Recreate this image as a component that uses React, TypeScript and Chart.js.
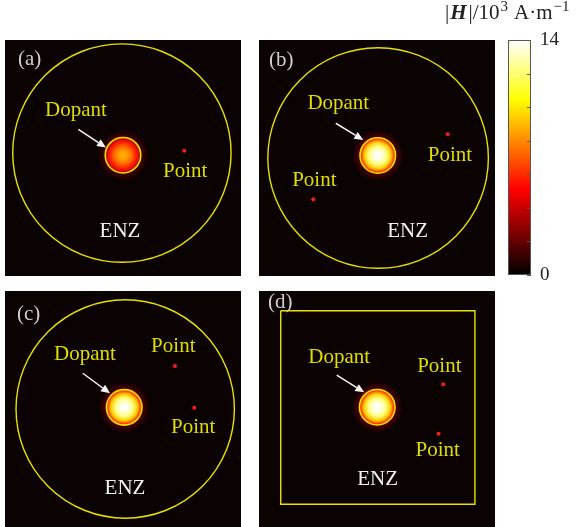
import React, { useRef, useEffect } from 'react';
import { Chart, registerables } from 'chart.js';

Chart.register(...registerables);

const SERIF = '"Liberation Serif", "Times New Roman", serif';
const YELLOW_TEXT = '#dede00';
const YELLOW_LINE = '#e8e200';

// |H| colour scale, in 10^3 A/m
const fieldMin = 0;
const fieldMax = 14;
const colorbarTicks = [0, 2, 4, 6, 8, 10, 12, 14];
const colorbarTickLabels = ['0', '', '', '', '', '', '', '14'];

const panelTags = ['(a)', '(b)', '(c)', '(d)'];

// ENZ host boundary, in units of the host radius
const enzShape = ['circle', 'circle', 'circle', 'square'];
const enzCentreX = [-0.01, 0.01, 0.02, 0];
const enzCentreY = [0.045, 0, 0, 0];
const enzRadius = [0.99, 1.0, 0.99, 0];
const enzSquareX = [-0.873, 0.888, 0.888, -0.873, -0.873];
const enzSquareY = [0.891, 0.891, -0.864, -0.864, 0.891];

// dopant and the field inside it (centre -> rim)
const dopantX = [0, 0.007, 0.011, 0.002];
const dopantY = [0.025, 0.023, 0.015, 0.016];
const dopantRadius = 0.161;
const radiusSamples = [0, 0.25, 0.5, 0.75, 1];
const dopantField = [
    [8.8, 8.4, 7.3, 5.7, 3.6],
    [14, 13.6, 12.2, 9.4, 5.0],
    [14, 13.6, 12.2, 9.4, 5.0],
    [14, 13.6, 12.2, 9.4, 5.0],
];
const haloField = [1.4, 1.6, 1.6, 1.6];

// probe points
const pointX = [[0.556], [0.641, -0.578], [0.471, 0.646], [0.601, 0.559]];
const pointY = [[0.066], [0.215, -0.374], [0.39, 0.012], [0.224, -0.224]];

// annotation anchors
const pointLabelX = [[0.564], [0.662, -0.568], [0.456, 0.637], [0.565, 0.55]];
const pointLabelY = [[-0.124], [0.027, -0.206], [0.565, -0.166], [0.39, -0.378]];
const dopantLabelX = [-0.426, -0.351, -0.345, -0.342];
const dopantLabelY = [0.435, 0.49, 0.49, 0.465];
const enzLabelX = [-0.027, 0.278, 0.018, 0.006];
const enzLabelY = [-0.662, -0.662, -0.719, -0.637];
const arrowFrom = [[-0.405, 0.26], [-0.374, 0.315], [-0.365, 0.324], [-0.365, 0.308]];
const arrowTo = [[-0.154, 0.095], [-0.124, 0.163], [-0.118, 0.142], [-0.115, 0.151]];

const panelLeft = [5, 259, 5, 259];
const panelTop = [40, 40, 291, 291];
const PANEL = 236;
const tagOffsetX = [13, 10, 12, 9];
const tagOffsetY = [19, 20, 23, 11];

// matplotlib-style "hot" colour map
const hotStops = [0, 0.365, 0.746, 1];
const hot = (v: number, alpha = 1) => {
    const t = Math.max(0, Math.min(1, (v - fieldMin) / (fieldMax - fieldMin)));
    const r = Math.min(1, t / 0.365);
    const g = Math.max(0, Math.min(1, (t - 0.365) / 0.381));
    const b = Math.max(0, Math.min(1, (t - 0.746) / 0.254));
    return `rgba(${Math.round(r * 255)},${Math.round(g * 255)},${Math.round(b * 255)},${alpha})`;
};

const unitPx = (chart: any, r: number) =>
    Math.abs(chart.scales.x.getPixelForValue(r) - chart.scales.x.getPixelForValue(0));

const Panel: React.FC<{ index: number }> = ({ index: i }) => {
    const chartRef = useRef<HTMLCanvasElement>(null);
    const chartInstance = useRef<Chart | null>(null);

    useEffect(() => {
        if (!chartRef.current) return;
        const ctx = chartRef.current.getContext('2d');
        if (!ctx) return;
        if (chartInstance.current) chartInstance.current.destroy();

        const datasets: any[] = [];
        if (enzShape[i] === 'circle') {
            datasets.push({
                label: 'ENZ',
                data: [{ x: enzCentreX[i], y: enzCentreY[i] }],
                pointRadius: (c: any) => unitPx(c.chart, enzRadius[i]),
                pointBackgroundColor: 'rgba(0,0,0,0)',
                pointBorderColor: YELLOW_LINE,
                pointBorderWidth: 1.4,
            });
        } else {
            datasets.push({
                label: 'ENZ',
                data: enzSquareX.map((x, k) => ({ x, y: enzSquareY[k] })),
                showLine: true,
                borderColor: YELLOW_LINE,
                borderWidth: 1.4,
                pointRadius: 0,
                tension: 0,
            });
        }
        datasets.push({
            label: 'Dopant',
            data: [{ x: dopantX[i], y: dopantY[i] }],
            pointRadius: (c: any) => unitPx(c.chart, dopantRadius),
            pointBackgroundColor: 'rgba(0,0,0,0)',
            pointBorderColor: '#f2e400',
            pointBorderWidth: 1.6,
        });
        datasets.push({
            label: 'Point',
            data: pointX[i].map((x, k) => ({ x, y: pointY[i][k] })),
            pointRadius: 2,
            pointBackgroundColor: '#ff1a1a',
            pointBorderWidth: 0,
        });

        const fieldPlugin = {
            id: 'field',
            beforeDatasetsDraw(chart: any) {
                const { ctx: c, scales } = chart;
                c.save();
                c.fillStyle = '#0b0202';
                c.fillRect(0, 0, chart.width, chart.height);
                const px = scales.x.getPixelForValue(dopantX[i]);
                const py = scales.y.getPixelForValue(dopantY[i]);
                const R = unitPx(chart, dopantRadius);
                const halo = c.createRadialGradient(px, py, R, px, py, R * 1.45);
                halo.addColorStop(0, hot(haloField[i]));
                halo.addColorStop(1, hot(haloField[i], 0));
                c.fillStyle = halo;
                c.beginPath();
                c.arc(px, py, R * 1.45, 0, Math.PI * 2);
                c.fill();
                const g = c.createRadialGradient(px, py, 0, px, py, R);
                radiusSamples.forEach((t, k) => g.addColorStop(t, hot(dopantField[i][k])));
                c.fillStyle = g;
                c.beginPath();
                c.arc(px, py, R, 0, Math.PI * 2);
                c.fill();
                c.restore();
            },
            afterDatasetsDraw(chart: any) {
                const { ctx: c, chartArea: a, scales } = chart;
                const X = (v: number) => scales.x.getPixelForValue(v);
                const Y = (v: number) => scales.y.getPixelForValue(v);
                c.save();
                c.font = `21px ${SERIF}`;
                c.textAlign = 'center';
                c.textBaseline = 'middle';
                c.fillStyle = YELLOW_TEXT;
                c.fillText('Dopant', X(dopantLabelX[i]), Y(dopantLabelY[i]));
                pointLabelX[i].forEach((lx, k) => c.fillText('Point', X(lx), Y(pointLabelY[i][k])));
                c.fillStyle = '#f2f2f2';
                c.fillText('ENZ', X(enzLabelX[i]), Y(enzLabelY[i]));

                // arrow towards the dopant
                const x0 = X(arrowFrom[i][0]), y0 = Y(arrowFrom[i][1]);
                const x1 = X(arrowTo[i][0]), y1 = Y(arrowTo[i][1]);
                const ang = Math.atan2(y1 - y0, x1 - x0);
                const head = 9, half = 4;
                const bx = x1 - head * Math.cos(ang), by = y1 - head * Math.sin(ang);
                c.strokeStyle = '#f4f4f4';
                c.fillStyle = '#f4f4f4';
                c.lineWidth = 1.5;
                c.beginPath();
                c.moveTo(x0, y0);
                c.lineTo(bx, by);
                c.stroke();
                c.beginPath();
                c.moveTo(x1, y1);
                c.lineTo(bx - half * Math.sin(ang), by + half * Math.cos(ang));
                c.lineTo(bx + half * Math.sin(ang), by - half * Math.cos(ang));
                c.closePath();
                c.fill();

                c.textAlign = 'left';
                c.fillStyle = '#d0d0d0';
                c.fillText(panelTags[i], a.left + tagOffsetX[i], a.top + tagOffsetY[i]);
                c.restore();
            },
        };

        chartInstance.current = new Chart(ctx, {
            type: 'scatter',
            data: { datasets },
            options: {
                animation: false,
                responsive: true,
                maintainAspectRatio: false,
                events: [],
                layout: { padding: 0, autoPadding: false },
                plugins: { legend: { display: false }, tooltip: { enabled: false } },
                scales: {
                    x: { type: 'linear', display: false, min: -1.07, max: 1.07 },
                    y: { type: 'linear', display: false, min: -1.07, max: 1.07 },
                },
            },
            plugins: [fieldPlugin],
        });

        return () => {
            if (chartInstance.current) {
                chartInstance.current.destroy();
                chartInstance.current = null;
            }
        };
    }, [i]);

    return (
        <div style={{ position: 'absolute', left: panelLeft[i], top: panelTop[i], width: PANEL, height: PANEL }}>
            <canvas ref={chartRef}></canvas>
        </div>
    );
};

const Colorbar: React.FC = () => {
    const chartRef = useRef<HTMLCanvasElement>(null);
    const chartInstance = useRef<Chart | null>(null);

    useEffect(() => {
        if (!chartRef.current) return;
        const ctx = chartRef.current.getContext('2d');
        if (!ctx) return;
        if (chartInstance.current) chartInstance.current.destroy();

        const colorbarPlugin = {
            id: 'colorbarFrame',
            afterDatasetsDraw(chart: any) {
                const { ctx: c, chartArea: a, scales } = chart;
                c.save();
                c.strokeStyle = '#555555';
                c.lineWidth = 1;
                c.strokeRect(a.left + 0.5, a.top + 0.5, a.width - 1, a.height - 1);
                c.font = `19px ${SERIF}`;
                c.fillStyle = '#222222';
                c.textAlign = 'left';
                c.textBaseline = 'middle';
                colorbarTicks.forEach((v, k) => {
                    const py = Math.round(scales.y.getPixelForValue(v)) + 0.5;
                    c.beginPath();
                    c.moveTo(a.right, py);
                    c.lineTo(a.right - 4, py);
                    c.stroke();
                    if (colorbarTickLabels[k]) c.fillText(colorbarTickLabels[k], a.right + 9, py);
                });

                // |H|/10^3 A·m^-1
                const parts = [
                    { t: '|', f: `21px ${SERIF}`, dy: 0, gap: 1 },
                    { t: 'H', f: `italic bold 21px ${SERIF}`, dy: 0, gap: 2 },
                    { t: '|/10', f: `21px ${SERIF}`, dy: 0, gap: 1 },
                    { t: '3', f: `15px ${SERIF}`, dy: -8, gap: 6 },
                    { t: 'A·m', f: `21px ${SERIF}`, dy: 0, gap: 1 },
                    { t: '−1', f: `15px ${SERIF}`, dy: -8, gap: 0 },
                ];
                c.textBaseline = 'alphabetic';
                let cx = 5;
                parts.forEach((p) => {
                    c.font = p.f;
                    c.fillText(p.t, cx, 19 + p.dy);
                    cx += c.measureText(p.t).width + p.gap;
                });
                c.restore();
            },
        };

        chartInstance.current = new Chart(ctx, {
            type: 'bar',
            data: {
                labels: ['|H|'],
                datasets: [
                    {
                        data: [[fieldMin, fieldMax]],
                        barPercentage: 1,
                        categoryPercentage: 1,
                        borderWidth: 0,
                        backgroundColor: (c: any) => {
                            const area = c.chart.chartArea;
                            if (!area) return '#000';
                            const g = c.chart.ctx.createLinearGradient(0, area.bottom, 0, area.top);
                            hotStops.forEach((t) => g.addColorStop(t, hot(fieldMin + t * (fieldMax - fieldMin))));
                            return g;
                        },
                    },
                ],
            },
            options: {
                animation: false,
                responsive: true,
                maintainAspectRatio: false,
                events: [],
                layout: { padding: { left: 68, right: 48, top: 40, bottom: 15 }, autoPadding: false },
                plugins: { legend: { display: false }, tooltip: { enabled: false } },
                scales: {
                    x: { display: false },
                    y: { display: false, min: fieldMin, max: fieldMax },
                },
            },
            plugins: [colorbarPlugin],
        });

        return () => {
            if (chartInstance.current) {
                chartInstance.current.destroy();
                chartInstance.current = null;
            }
        };
    }, []);

    return (
        <div style={{ position: 'absolute', left: 440, top: 0, width: 139, height: 290 }}>
            <canvas ref={chartRef}></canvas>
        </div>
    );
};

const App: React.FC = () => (
    <div style={{ position: 'fixed', left: 0, top: 0, width: 579, height: 527, background: '#ffffff', overflow: 'hidden' }}>
        {panelTags.map((_, k) => (
            <Panel key={k} index={k} />
        ))}
        <Colorbar />
    </div>
);

export default App;
